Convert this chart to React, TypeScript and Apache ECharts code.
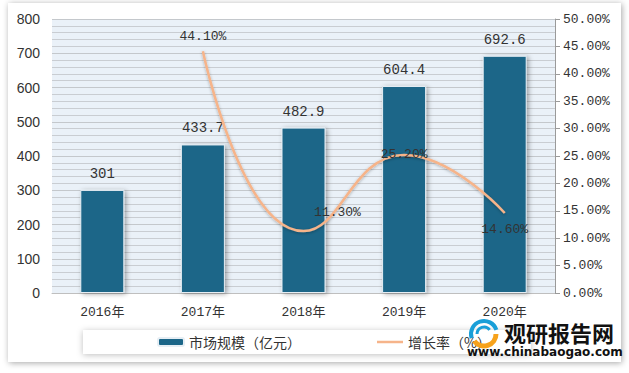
import React, { useEffect, useRef } from "react";
import * as echarts from "echarts";

const categories = ["2016年", "2017年", "2018年", "2019年", "2020年"];
const marketSize = [301, 433.7, 482.9, 604.4, 692.6];
const growthRate: (number | null)[] = [null, 44.1, 11.3, 25.2, 14.6];
const seriesNames = ["市场规模（亿元）", "增长率（%）"];

const MONO = "'Liberation Mono', 'Noto Sans CJK SC', monospace";

export default function App() {
  const ref = useRef<HTMLDivElement>(null);
  useEffect(() => {
    if (!ref.current) return;
    const chart = echarts.init(ref.current, undefined, { renderer: "svg" });
    const lineLabelCfg: any[] = [
      { position: "top", distance: 8 },
      { position: "top", offset: [34, -12], distance: 0 },
      { position: "inside" },
      { position: "bottom", distance: 10 },
    ];
    const lineData = growthRate.map((v, i) => {
      if (v === null) return null;
      return { value: v, label: lineLabelCfg[i - 1] };
    });
    chart.setOption({
      animation: false,
      backgroundColor: "#ffffff",
      graphic: [
        {
          type: "rect",
          shape: { x: 8, y: 3, width: 613, height: 359 },
          style: { fill: "#ffffff", shadowBlur: 6, shadowColor: "rgba(0,0,0,0.35)", shadowOffsetX: 1, shadowOffsetY: 1 },
          z: -10,
          silent: true,
        },
        {
          type: "arc",
          shape: { cx: 484, cy: 334, r: 13, startAngle: Math.PI * 0.9, endAngle: Math.PI * 1.9 },
          style: { stroke: "#1a9fd8", lineWidth: 4, fill: "none" },
          z: 100,
        },
        {
          type: "arc",
          shape: { cx: 484, cy: 334, r: 7, startAngle: Math.PI * 1.0, endAngle: Math.PI * 1.8 },
          style: { stroke: "#1a9fd8", lineWidth: 3, fill: "none" },
          z: 100,
        },
        {
          type: "arc",
          shape: { cx: 484, cy: 334, r: 12, startAngle: Math.PI * 0.0, endAngle: Math.PI * 0.8 },
          style: { stroke: "#f7a21b", lineWidth: 5, fill: "none" },
          z: 100,
        },
        {
          type: "text",
          left: 504,
          top: 321,
          style: { text: "观研报告网", font: "bold 22px 'Noto Sans CJK SC'", fill: "#111" },
          z: 100,
        },
        {
          type: "text",
          left: 467,
          top: 346,
          style: { text: "www.chinabaogao.com", font: "bold 12px 'DejaVu Sans'", fill: "#111" },
          z: 100,
        },
      ],
      grid: {
        left: 52,
        right: 74,
        top: 19,
        bottom: 80,
        show: true,
        backgroundColor: "#eaf1f8",
        borderWidth: 0,
      },
      legend: {
        left: 83,
        top: 330,
        data: [
          { name: seriesNames[0] },
          { name: seriesNames[1], icon: "path://M0,0 L26,0 L26,2.5 L0,2.5 Z" },
        ],
        itemWidth: 26,
        itemHeight: 8,
        itemGap: 76,
        padding: [5, 40, 5, 74],
        backgroundColor: "#ffffff",
        shadowBlur: 6,
        shadowColor: "rgba(0,0,0,0.25)",
        shadowOffsetY: 1,
        textStyle: { fontSize: 14, color: "#333", fontFamily: "'Noto Sans CJK SC'" },
      },
      xAxis: {
        type: "category",
        data: categories,
        axisLine: { show: true, lineStyle: { color: "#bfbfbf" } },
        axisTick: { show: false },
        axisLabel: { fontSize: 13, color: "#333", margin: 13, fontFamily: MONO },
      },
      yAxis: [
        {
          type: "value",
          min: 0,
          max: 800,
          interval: 100,
          axisLine: { show: false },
          axisTick: { show: false },
          axisLabel: { fontSize: 14, color: "#333", margin: 12, fontFamily: "'Liberation Sans', Arial, sans-serif" },
          splitLine: { show: true, lineStyle: { color: "#c4c8cc", width: 1 } },
          minorTick: { show: false, splitNumber: 5 },
          minorSplitLine: { show: true, lineStyle: { color: "#c9cdd2", width: 1 } },
        },
        {
          type: "value",
          min: 0,
          max: 50,
          interval: 5,
          position: "right",
          axisLine: { show: true, lineStyle: { color: "#9a9a9a" } },
          axisTick: { show: true, length: 5, lineStyle: { color: "#9a9a9a" } },
          axisLabel: {
            fontSize: 13,
            color: "#333",
            margin: 8,
            fontFamily: MONO,
            formatter: (v: number) => v.toFixed(2) + "%",
          },
          splitLine: { show: false },
        },
      ],
      series: [
        {
          name: seriesNames[0],
          type: "bar",
          data: marketSize,
          barWidth: 44,
          itemStyle: {
            color: "#1c6688",
            borderColor: "#e6eef4",
            borderWidth: 1,
            shadowBlur: 5,
            shadowColor: "rgba(0,0,0,0.35)",
            shadowOffsetX: 2,
            shadowOffsetY: 1,
          },
          label: {
            show: true,
            position: "top",
            distance: 9,
            fontSize: 14,
            color: "#333",
            fontFamily: MONO,
            formatter: (p: any) => String(p.value),
          },
        },
        {
          name: seriesNames[1],
          type: "line",
          yAxisIndex: 1,
          data: lineData,
          smooth: 0.5,
          symbol: "circle",
          symbolSize: 0.1,
          showSymbol: true,
          connectNulls: false,
          lineStyle: {
            color: "#f6b48a",
            width: 2.5,
            shadowBlur: 3,
            shadowColor: "rgba(0,0,0,0.3)",
            shadowOffsetY: 1,
          },
          itemStyle: { color: "#f6b48a" },
          label: {
            show: true,
            fontSize: 13,
            color: "#333",
            fontFamily: MONO,
            formatter: (p: any) => Number(p.value).toFixed(2) + "%",
          },
          z: 5,
        },
      ],
    });
    return () => chart.dispose();
  }, []);
  return (
    <div
      ref={ref}
      style={{ position: "fixed", left: 0, top: 0, width: 629, height: 373 }}
    />
  );
}
